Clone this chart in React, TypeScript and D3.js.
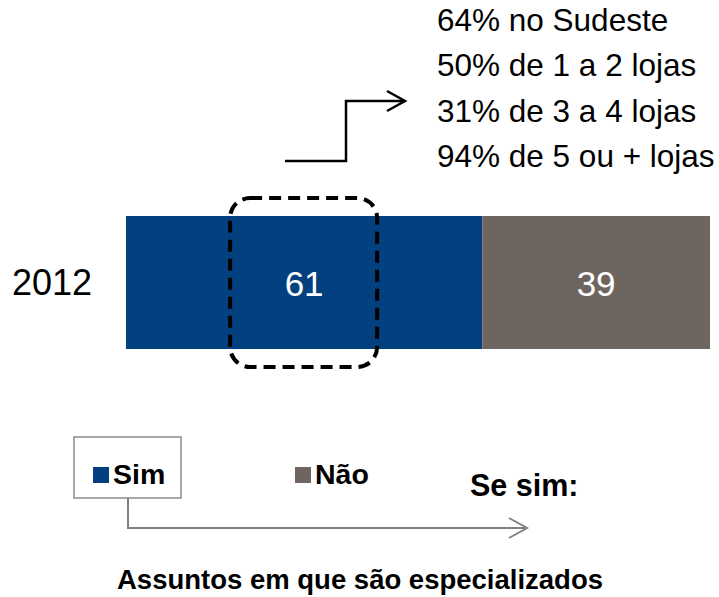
import React from 'react';
import * as d3 from 'd3';

// chart data
const years = ['2012'];
const seriesNames = ['Sim', 'Não'];
const simValues = [61];
const naoValues = [39];
const colors = ['#02407f', '#6e6561'];

const detailLines = ['64% no Sudeste', '50% de 1 a 2 lojas', '31% de 3 a 4 lojas', '94% de 5 ou + lojas'];
const subTitle = 'Se sim:';
const footTitle = 'Assuntos em que são especializados';

const W = 719;
const H = 597;
const FONT = 'Arial, "Liberation Sans", sans-serif';

const App = () => {
  const x = d3.scaleLinear().domain([0, 100]).range([126, 710]);
  const y = d3.scaleBand().domain(years).range([216, 349]).padding(0);

  const stackData = years.map((yr, i) => ({ year: yr, Sim: simValues[i], 'Não': naoValues[i] }));
  const stacked = d3.stack().keys(seriesNames)(stackData as any);

  // dashed highlight around the "Sim" label
  const simMid = x((stacked[0][0][0] + stacked[0][0][1]) / 2);
  const bandTop = y(years[0])!;
  const bandH = y.bandwidth();

  return (
    <svg width={W} height={H} style={{ position: 'absolute', left: 0, top: 0 }} fontFamily={FONT}>
      {/* top detail text */}
      {detailLines.map((t, i) => (
        <text key={t} x={437} y={31 + i * 45.3} fontSize={31.5} fill="#000">{t}</text>
      ))}

      {/* step arrow */}
      <path d="M285,161 H346 V101 H405" fill="none" stroke="#000" strokeWidth={2.5} />
      <path d="M387,91 L405,101 L387,111" fill="none" stroke="#000" strokeWidth={2.5} />

      {/* stacked bar */}
      {stacked.map((s, si) => s.map((d, di) => (
        <g key={`${si}-${di}`}>
          <rect x={x(d[0])} y={y(years[di])} width={x(d[1]) - x(d[0])} height={bandH} fill={colors[si]} />
          <text x={x((d[0] + d[1]) / 2)} y={y(years[di])! + bandH / 2 + 13} textAnchor="middle"
            fontSize={35} fill="#fff">{d[1] - d[0]}</text>
        </g>
      )))}

      {/* category label */}
      {years.map(yr => (
        <text key={yr} x={12} y={y(yr)! + bandH / 2 + 12} fontSize={36} fill="#000">{yr}</text>
      ))}

      <rect x={simMid - 74} y={bandTop - 18} width={147} height={bandH + 36} rx={20}
        fill="none" stroke="#000" strokeWidth={4} strokeDasharray="12 7" />

      {/* legend */}
      <rect x={74} y={437} width={107} height={61} fill="#fff" stroke="#8a8a8a" strokeWidth={1.5} />
      <rect x={93} y={467} width={16} height={16} fill={colors[0]} />
      <text x={113} y={484} fontSize={28.5} fontWeight="bold">{seriesNames[0]}</text>
      <rect x={295} y={467} width={16} height={16} fill={colors[1]} />
      <text x={315} y={484} fontSize={28.5} fontWeight="bold">{seriesNames[1]}</text>

      <text x={470} y={496} fontSize={30.5} fontWeight="bold">{subTitle}</text>

      {/* grey connector arrow */}
      <path d="M128,498 V528 H527" fill="none" stroke="#808080" strokeWidth={2} />
      <path d="M509,518 L527,528 L509,538" fill="none" stroke="#808080" strokeWidth={2} />

      <text x={360} y={589} textAnchor="middle" fontSize={27.5} fontWeight="bold">{footTitle}</text>
    </svg>
  );
};

export default App;
